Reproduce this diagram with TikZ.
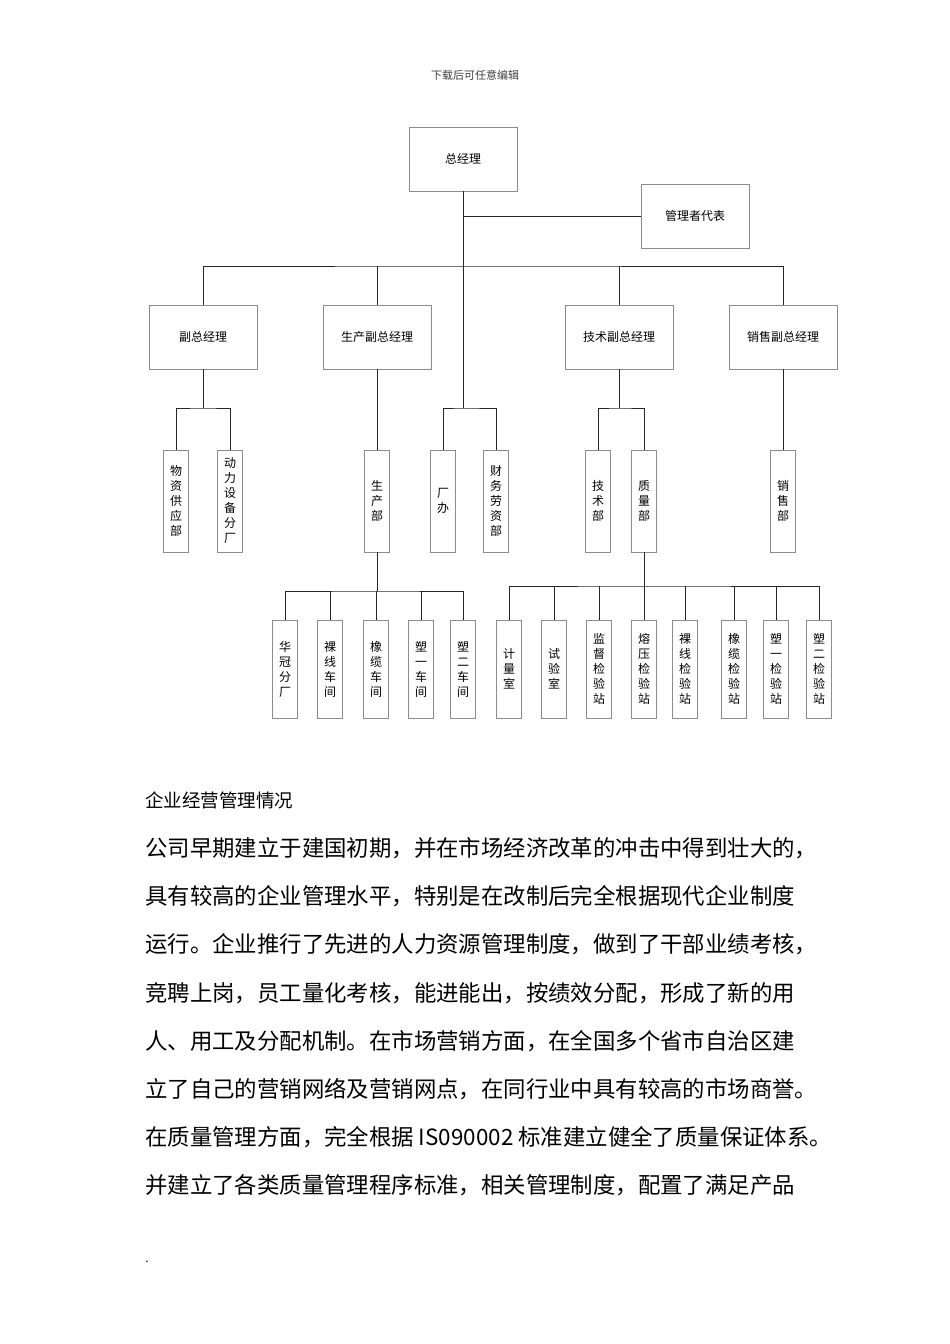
\documentclass[tikz,border=0pt]{standalone}
\usepackage{fontspec}
\setmainfont{Noto Sans CJK SC}
\begin{document}
\begin{tikzpicture}[x=1pt, y=-1pt,
    box/.style={draw=black!45, fill=white, minimum width=108pt, minimum height=64pt, inner sep=0pt, font=\fontsize{12}{14}\selectfont},
    tallbox/.style={draw=black!45, fill=white, minimum width=25pt, minimum height=102pt, inner sep=0pt, align=center, font=\fontsize{12}{15}\selectfont},
    lowbox/.style={tallbox, minimum height=98pt},
    link/.style={draw=black!85, line width=0.6pt},
    para/.style={anchor=west, inner sep=0pt, font=\fontsize{22.4}{24}\selectfont}]

    \useasboundingbox (0,0) rectangle (950,1344);
    \fill[white] (0,0) rectangle (950,1344);

    % Header
    \node[font=\fontsize{11}{13}\selectfont, text=black!75] (header) at (475,75) {下载后可任意编辑};

    % Top of the chart
    \node[box] (gm) at (463,159) {总经理};
    \node[box] (rep) at (695,216) {管理者代表};

    % Deputy managers
    \node[box] (vgm) at (203,337) {副总经理};
    \node[box] (prodgm) at (377,337) {生产副总经理};
    \node[box] (techgm) at (619,337) {技术副总经理};
    \node[box] (salesgm) at (783,337) {销售副总经理};

    % Departments
    \node[tallbox] (supply) at (176,501) {物\\资\\供\\应\\部};
    \node[tallbox] (power) at (230,501) {动\\力\\设\\备\\分\\厂};
    \node[tallbox] (prod) at (377,501) {生\\产\\部};
    \node[tallbox] (office) at (443,501) {厂\\办};
    \node[tallbox] (finance) at (496,501) {财\\务\\劳\\资\\部};
    \node[tallbox] (tech) at (598,501) {技\\术\\部};
    \node[tallbox] (quality) at (644,501) {质\\量\\部};
    \node[tallbox] (sales) at (783,501) {销\\售\\部};

    % Workshops
    \node[lowbox] (huaguan) at (285,669) {华\\冠\\分\\厂};
    \node[lowbox] (barews) at (330,669) {裸\\线\\车\\间};
    \node[lowbox] (rubberws) at (376,669) {橡\\缆\\车\\间};
    \node[lowbox] (plasticAws) at (421,669) {塑\\一\\车\\间};
    \node[lowbox] (plasticBws) at (463,669) {塑\\二\\车\\间};

    % Inspection stations
    \node[lowbox] (metering) at (509,669) {计\\量\\室};
    \node[lowbox] (testing) at (554,669) {试\\验\\室};
    \node[lowbox] (supervise) at (599,669) {监\\督\\检\\验\\站};
    \node[lowbox] (fusion) at (644,669) {熔\\压\\检\\验\\站};
    \node[lowbox] (barest) at (685,669) {裸\\线\\检\\验\\站};
    \node[lowbox] (rubberst) at (734,669) {橡\\缆\\检\\验\\站};
    \node[lowbox] (plasticAst) at (776,669) {塑\\一\\检\\验\\站};
    \node[lowbox] (plasticBst) at (819,669) {塑\\二\\检\\验\\站};

    % Junctions
    \coordinate (bar) at (463,266);
    \coordinate (hubA) at (203,408);
    \coordinate (hubB) at (463,408);
    \coordinate (hubC) at (619,408);
    \coordinate (hubD) at (377,591);
    \coordinate (hubE) at (644,586);

    % Trunk and representative
    \draw[link] (gm) -- (hubB);
    \draw[link] (gm.south |- rep.west) -- (rep.west);

    % Bar to deputy managers
    \draw[link] (vgm.north) |- (bar) -| (salesgm.north);
    \foreach \n in {prodgm, techgm}
        \draw[link] (\n.north) -- (\n.north |- bar);

    % Deputies to departments
    \draw[link] (vgm) -- (hubA);
    \draw[link] (supply.north) |- (hubA) -| (power.north);
    \draw[link] (office.north) |- (hubB) -| (finance.north);
    \draw[link] (techgm) -- (hubC);
    \draw[link] (tech.north) |- (hubC) -| (quality.north);
    \draw[link] (prodgm) -- (prod);
    \draw[link] (salesgm) -- (sales);

    % Production department to workshops
    \draw[link] (prod) -- (hubD);
    \draw[link] (huaguan.north) |- (hubD) -| (plasticBws.north);
    \foreach \n in {barews, rubberws, plasticAws}
        \draw[link] (\n.north) -- (\n.north |- hubD);

    % Quality department to stations
    \draw[link] (quality) -- (hubE);
    \draw[link] (metering.north) |- (hubE) -| (plasticBst.north);
    \foreach \n in {testing, supervise, fusion, barest, rubberst, plasticAst}
        \draw[link] (\n.north) -- (\n.north |- hubE);

    % Text below the chart
    \node[anchor=west, inner sep=0pt, font=\fontsize{18.5}{21}\selectfont] (title) at (145,800) {企业经营管理情况};
    \foreach \txt [count=\i] in {
        公司早期建立于建国初期，并在市场经济改革的冲击中得到壮大的，,
        具有较高的企业管理水平，特别是在改制后完全根据现代企业制度,
        运行。企业推行了先进的人力资源管理制度，做到了干部业绩考核，,
        竞聘上岗，员工量化考核，能进能出，按绩效分配，形成了新的用,
        人、用工及分配机制。在市场营销方面，在全国多个省市自治区建,
        立了自己的营销网络及营销网点，在同行业中具有较高的市场商誉。,
        在质量管理方面，完全根据 IS090002 标准建立健全了质量保证体系。,
        并建立了各类质量管理程序标准，相关管理制度，配置了满足产品}
        \node[para] (line\i) at (145,800+48.2*\i) {\txt};
    \node[inner sep=0pt, font=\fontsize{12}{14}\selectfont] (enddot) at (147,1262) {.};

\end{tikzpicture}
\end{document}
